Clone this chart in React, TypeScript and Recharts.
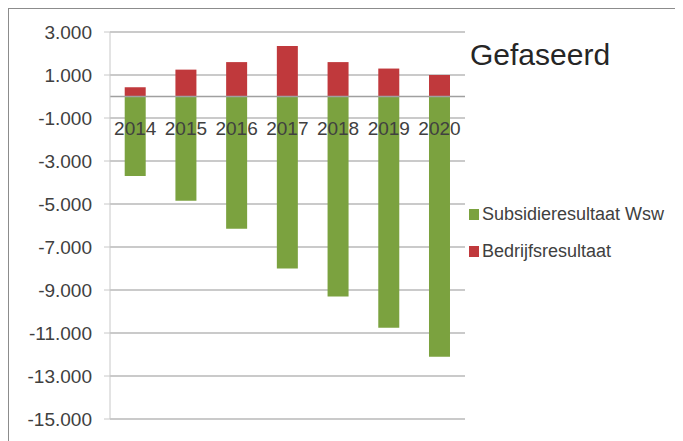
import React from "react";
import {
  BarChart,
  Bar,
  YAxis,
  XAxis,
  CartesianGrid,
  ReferenceLine,
  LabelList,
  Legend,
} from "recharts";

const years = ["2014", "2015", "2016", "2017", "2018", "2019", "2020"];
const subsidieresultaat = [-3700, -4850, -6150, -8000, -9300, -10750, -12100];
const bedrijfsresultaat = [430, 1250, 1600, 2350, 1600, 1300, 1000];
const yTicks = [-15000, -13000, -11000, -9000, -7000, -5000, -3000, -1000, 1000, 3000];

const data = years.map((year, i) => ({
  year,
  subsidie: subsidieresultaat[i],
  bedrijf: bedrijfsresultaat[i],
}));

const GREEN = "#7ba23f";
const RED = "#c0393c";
const FONT = "'Liberation Sans', Arial, sans-serif";

const formatNl = (v: number) => {
  const s = Math.abs(v).toString().replace(/\B(?=(\d{3})+(?!\d))/g, ".");
  return (v < 0 ? "-" : "") + s;
};

const legendItems = [
  { label: "Subsidieresultaat Wsw", color: GREEN },
  { label: "Bedrijfsresultaat", color: RED },
];

const renderLegend = () => (
  <div style={{ fontFamily: FONT, fontSize: 18, color: "#404040" }}>
    {legendItems.map((it) => (
      <div
        key={it.label}
        style={{ display: "flex", alignItems: "center", height: 37, whiteSpace: "nowrap" }}
      >
        <span
          style={{ width: 10, height: 11, background: it.color, marginRight: 3, display: "inline-block" }}
        />
        {it.label}
      </div>
    ))}
  </div>
);

export default function App() {
  return (
    <div
      style={{
        position: "relative",
        width: 675,
        height: 433,
        borderTop: "1px solid #8c8c8c",
        borderLeft: "1px solid #8c8c8c",
        boxSizing: "border-box",
        overflow: "hidden",
        background: "#fff",
      }}
    >
      <div
        style={{
          position: "absolute",
          left: 461,
          top: 29,
          fontFamily: FONT,
          fontSize: 30,
          color: "#262626",
          whiteSpace: "nowrap",
        }}
      >
        Gefaseerd
      </div>
      <BarChart
        width={674}
        height={432}
        data={data}
        stackOffset="sign"
        barCategoryGap="29%"
        margin={{ top: 23, right: 218, bottom: 22, left: 0 }}
      >
        <CartesianGrid vertical={false} stroke="#b8b8b8" strokeWidth={1.5} />
        <XAxis dataKey="year" hide />
        <YAxis
          type="number"
          domain={[-15000, 3000]}
          ticks={yTicks}
          interval={0}
          width={101}
          tickFormatter={formatNl}
          tick={{ fill: "#404040", fontSize: 19, fontFamily: FONT }}
          tickSize={6}
          tickMargin={12}
          stroke="#c8c8c8"
        />
        <ReferenceLine y={0} stroke="#a0a0a0" strokeWidth={1.5} />
        <Bar
          dataKey="subsidie"
          name="Subsidieresultaat Wsw"
          stackId="a"
          fill={GREEN}
          isAnimationActive={false}
        >
          <LabelList
            dataKey="year"
            position="insideBottom"
            offset={25}
            fill="#404040"
            fontSize={19}
            fontFamily={FONT}
          />
        </Bar>
        <Bar
          dataKey="bedrijf"
          name="Bedrijfsresultaat"
          stackId="a"
          fill={RED}
          isAnimationActive={false}
        />
        <Legend
          layout="vertical"
          align="center"
          verticalAlign="middle"
          content={renderLegend}
          wrapperStyle={{ position: "absolute", left: 460, top: 187, width: 220 }}
        />
      </BarChart>
    </div>
  );
}
